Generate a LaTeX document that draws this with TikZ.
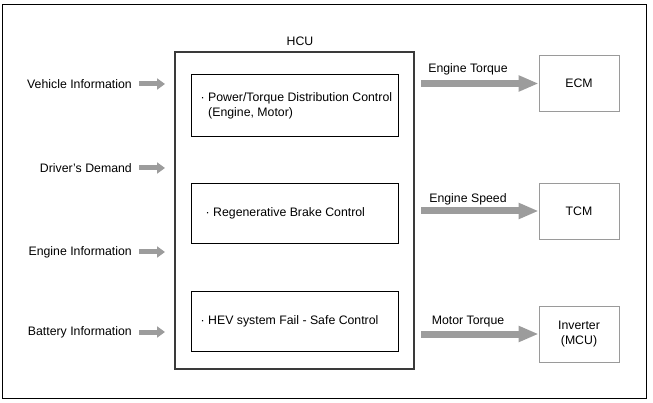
\documentclass[tikz,border=0pt]{standalone}
\usepackage{fontspec}
\setmainfont{Liberation Sans}
\usetikzlibrary{arrows.meta}
\definecolor{arrgray}{HTML}{9C9C9C}
\definecolor{hcugray}{HTML}{3A3A3A}
\definecolor{boxgray}{HTML}{9A9A9A}
\begin{document}
\begin{tikzpicture}[x=1pt,y=-1pt,
  every node/.style={font=\fontsize{12.3}{15}\selectfont},
  lbl/.style={inner sep=0pt},
  hcubox/.style={draw=hcugray,line width=2.8pt,minimum width=239pt,minimum height=317pt,inner sep=0pt},
  funcbox/.style={draw=black,line width=0.8pt,minimum width=207pt,inner sep=0pt},
  ecubox/.style={draw=boxgray,line width=0.8pt,minimum width=80pt,minimum height=56pt,inner sep=0pt,align=center},
  smallarrow/.style={draw=arrgray,line width=5pt,-{Triangle[length=8pt,width=11pt]}},
  bigarrow/.style={draw=arrgray,line width=7pt,-{Triangle[length=20pt,width=15pt]}}]
\useasboundingbox (0,0) rectangle (653,403);
\draw[line width=1pt] (2,5) rectangle (646,398);

% HCU
\node[hcubox] (hcu) at (294.5,210.5) {};
\node[lbl] (hcul) at (300,41) {HCU};

% function boxes
\node[funcbox,minimum height=62pt] (f1) at (294.5,105) {};
\node[funcbox,minimum height=60pt] (f2) at (294.5,213) {};
\node[funcbox,minimum height=60pt] (f3) at (294.5,321) {};
\node[lbl,anchor=west,align=left] (t1) at (200.5,105.5) {· Power/Torque Distribution Control\\\hphantom{· }(Engine, Motor)};
\node[lbl,anchor=west] (t2) at (205.5,213) {· Regenerative Brake Control};
\node[lbl,anchor=west] (t3) at (200.5,321) {· HEV system Fail - Safe Control};

% inputs
\node[lbl,anchor=east] (in1) at (132,84) {Vehicle Information};
\node[lbl,anchor=east] (in2) at (132,168) {Driver’s Demand};
\node[lbl,anchor=east] (in3) at (132,252) {Engine Information};
\node[lbl,anchor=east] (in4) at (132,332) {Battery Information};
\foreach \i/\y in {1/84,2/168,3/252,4/332}{
  \coordinate (a\i s) at (139,\y);
  \coordinate (a\i e) at (165,\y);
  \draw[smallarrow] (a\i s) -- (a\i e);
}

% outputs
\node[ecubox] (ecm) at (579,83.5) {ECM};
\node[ecubox] (tcm) at (579,211) {TCM};
\node[ecubox] (inv) at (579,334) {Inverter\\(MCU)};
\coordinate (o1) at (421,83.5);
\coordinate (o2) at (421,211);
\coordinate (o3) at (421,334);
\draw[bigarrow] (o1) -- (ecm.west);
\draw[bigarrow] (o2) -- (tcm.west);
\draw[bigarrow] (o3) -- (inv.west);
\node[lbl] (l1) at (468,69) {Engine Torque};
\node[lbl] (l2) at (468,199) {Engine Speed};
\node[lbl] (l3) at (468,322) {Motor Torque};
\end{tikzpicture}
\end{document}
